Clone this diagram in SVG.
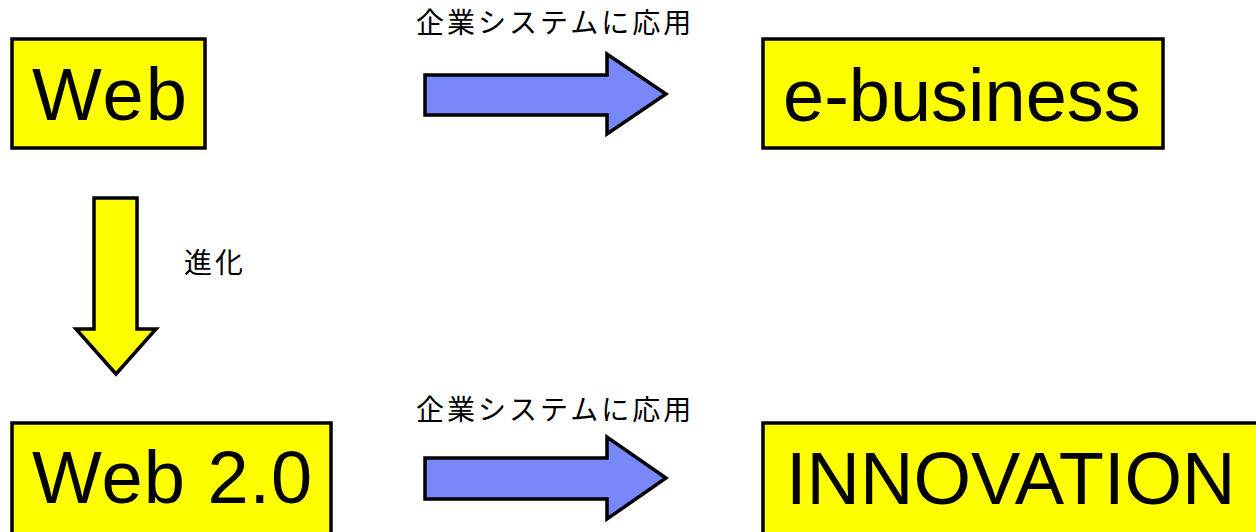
<svg xmlns="http://www.w3.org/2000/svg" width="1256" height="532" viewBox="0 0 1256 532">
<style>
.box{fill:#ffff00;stroke:#000;stroke-width:3.5}
.lbl{font-family:"Liberation Sans",Arial,sans-serif;font-size:74px;fill:#000}
.jp{font-family:"Noto Sans CJK JP","Noto Sans CJK SC",sans-serif;font-size:28px;fill:#000;letter-spacing:3px}
.barrow{fill:#7888f8;stroke:#000;stroke-width:3.5;stroke-linejoin:miter}
.yarrow{fill:#ffff00;stroke:#000;stroke-width:3.5;stroke-linejoin:miter}
</style>
<rect width="1256" height="532" fill="#fff"/>
<g id="node-web">
<rect class="box" x="12" y="39" width="193" height="109"/>
<text class="lbl" x="32" y="120" letter-spacing="2">Web</text>
</g>
<g id="node-ebusiness">
<rect class="box" x="763" y="39" width="400" height="109"/>
<text class="lbl" x="783" y="121" font-size="72">e-business</text>
</g>
<g id="node-web20">
<rect class="box" x="12" y="423" width="319" height="120"/>
<text class="lbl" x="32" y="503" letter-spacing="1">Web 2.0</text>
</g>
<g id="node-innovation">
<rect class="box" x="763" y="423" width="510" height="120"/>
<text class="lbl" x="786" y="504" font-size="72">INNOVATION</text>
</g>
<g id="connectors">
<polygon class="barrow" points="425,75 607,75 607,54 666,94 607,134 607,115 425,115"/>
<text class="jp" x="416" y="33">企業システムに応用</text>
<polygon class="yarrow" points="94,198 137,198 137,329 156,329 116,374 76,329 94,329"/>
<text class="jp" x="184" y="273">進化</text>
<polygon class="barrow" points="425,458 607,458 607,437 666,478 607,519 607,499 425,499"/>
<text class="jp" x="416" y="420">企業システムに応用</text>
</g>
</svg>
